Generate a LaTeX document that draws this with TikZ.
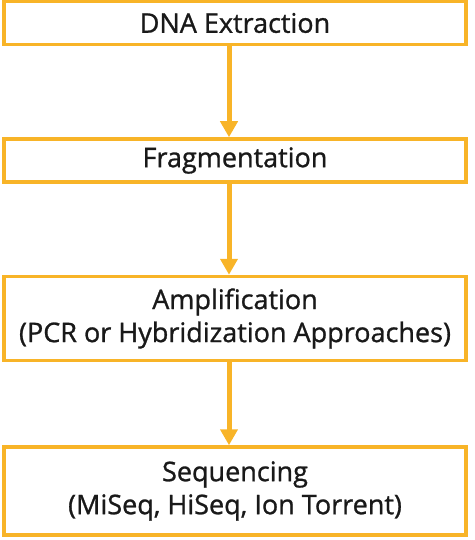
\documentclass[tikz,border=0pt]{standalone}
\usepackage{fontspec}
\setmainfont{Open Sans}
\newfontfamily\stagefont{Open Sans}[FakeBold=1]
\usetikzlibrary{positioning,arrows.meta,shadows}
\definecolor{amber}{RGB}{248,180,40}

\begin{document}
\begin{tikzpicture}[x=1pt,y=1pt,node distance=91pt,
   stage/.style={draw=amber,line width=3.5pt,fill=white,minimum width=462pt,
     inner sep=0pt,align=center,text=black!90,font=\stagefont\fontsize{27}{33}\selectfont,
     drop shadow={opacity=0.18,shadow xshift=1.5pt,shadow yshift=-1.5pt}},
   flow/.style={-{Triangle[width=17pt,length=16pt]},draw=amber,line width=5pt}]
   \useasboundingbox (0,0) rectangle (474,-540);
   \node[stage,minimum height=43pt] (dna) at (235,-23) {DNA Extraction};
   \node[stage,minimum height=43pt] (frag) [below=of dna] {Fragmentation};
   \node[stage,minimum height=84pt] (amp) [below=of frag] {Amplification\\(PCR or Hybridization Approaches)};
   % last gap is a little shorter
   \node[stage,minimum height=88pt] (seq) [below=83pt of amp] {Sequencing\\(MiSeq, HiSeq, Ion Torrent)};

   \path
    ([xshift=-6pt]dna.south)  edge[flow] ([xshift=-6pt]frag.north)
    ([xshift=-6pt]frag.south) edge[flow] ([xshift=-6pt]amp.north)
    ([xshift=-6pt]amp.south)  edge[flow] ([xshift=-6pt]seq.north);
\end{tikzpicture}
\end{document}
